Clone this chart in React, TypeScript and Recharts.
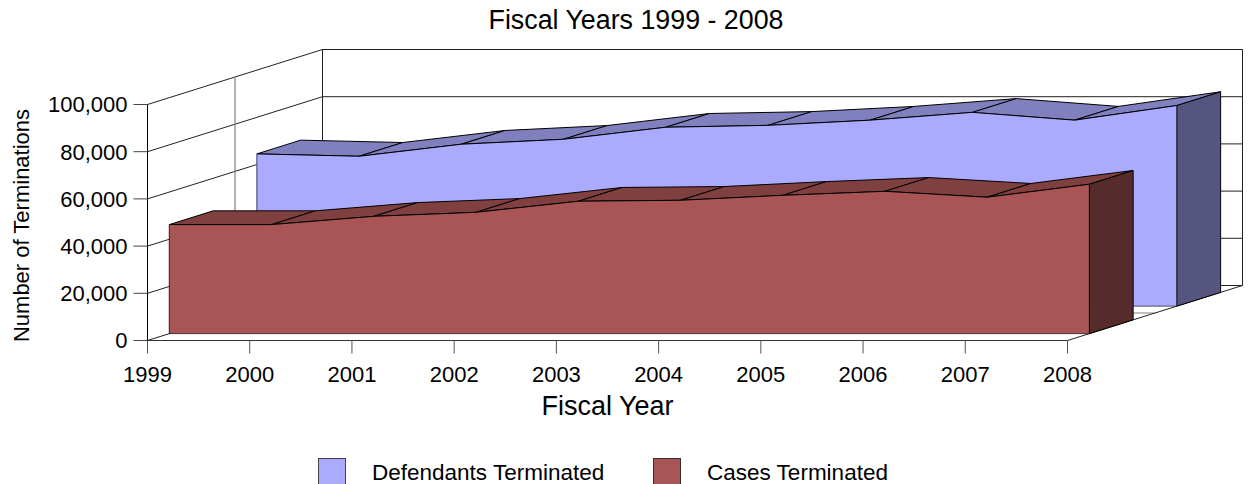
import React from 'react';
import { LineChart, Line, XAxis, YAxis } from 'recharts';

const years = ['1999', '2000', '2001', '2002', '2003', '2004', '2005', '2006', '2007', '2008'];
const defendants = [64500, 63500, 68600, 70700, 75800, 76600, 78800, 82100, 78800, 85000];
const cases = [46200, 46200, 49700, 51400, 56100, 56500, 58600, 60300, 57800, 63300];
const yTicks = [0, 20000, 40000, 60000, 80000, 100000];

const data = years.map((year, i) => ({ year, defendants: defendants[i], cases: cases[i] }));

const FONT = '"Liberation Sans", Arial, sans-serif';
const DEPTH_X = 175;
const DEPTH_Y = -55;
const LINE = '#000';

const BLUE = { front: '#AAAAFF', top: '#8080BF', side: '#555580', border: '#555580' };
const RED = { front: '#AA5555', top: '#804040', side: '#552B2B', border: '#552B2B' };

type Pt = { x: number; y: number };
const poly = (pts: number[][]) => pts.map((p) => p.join(',')).join(' ');

// pixel rate and position of value zero, read back from the library's own scale
function scaleOf(points: any[], dataKey: string) {
  const a = points[0];
  const hi = points.reduce((m, p) => (p.payload[dataKey] > m.payload[dataKey] ? p : m), a);
  const lo = points.reduce((m, p) => (p.payload[dataKey] < m.payload[dataKey] ? p : m), a);
  const k = (lo.y - hi.y) / (hi.payload[dataKey] - lo.payload[dataKey]);
  return (value: number) => lo.y + (lo.payload[dataKey] - value) * k;
}

function makeBlock(dataKey: string, startFrac: number, endFrac: number, c: typeof BLUE) {
  return (props: any) => {
    const { index, points } = props;
    if (index !== 0) return <g key={index} />;
    const ox = DEPTH_X * startFrac;
    const oy = DEPTH_Y * startFrac;
    const dx = DEPTH_X * (endFrac - startFrac);
    const dy = DEPTH_Y * (endFrac - startFrac);
    const y0 = scaleOf(points, dataKey)(0) + oy;
    const pts: number[][] = points.map((p: Pt) => [p.x + ox, p.y + oy]);
    const last = pts[pts.length - 1];
    const front = [[pts[0][0], y0], ...pts, [last[0], y0]];
    const side = [last, [last[0] + dx, last[1] + dy], [last[0] + dx, y0 + dy], [last[0], y0]];
    return (
      <g key={dataKey}>
        {pts.slice(0, -1).map((p, i) => {
          const n = pts[i + 1];
          return (
            <polygon
              key={i}
              points={poly([p, n, [n[0] + dx, n[1] + dy], [p[0] + dx, p[1] + dy]])}
              fill={c.top}
              stroke={LINE}
              strokeWidth={1}
              strokeLinejoin="round"
            />
          );
        })}
        <polygon points={poly(front)} fill={c.front} stroke="none" />
        <polyline points={poly(pts)} fill="none" stroke={LINE} strokeWidth={1} />
        <polyline points={poly([[pts[0][0], y0], pts[0]])} fill="none" stroke={c.border} strokeWidth={1.2} />
        <polyline points={poly([[pts[0][0], y0], [last[0], y0]])} fill="none" stroke={LINE} strokeOpacity={0.6} strokeWidth={1} />
        <polygon points={poly(side)} fill={c.side} stroke={LINE} strokeWidth={1} />
      </g>
    );
  };
}

function wallLine(tick: number) {
  return (props: any) => {
    const { index, points } = props;
    if (index !== 0) return <g key={index} />;
    const x0 = points[0].x;
    const x1 = points[points.length - 1].x;
    const y = points[0].y;
    return (
      <g key={tick} fill="none" stroke="#222" strokeWidth={1}>
        <line x1={x0} y1={y} x2={x0 + DEPTH_X} y2={y + DEPTH_Y} />
        <line x1={x0 + DEPTH_X} y1={y + DEPTH_Y} x2={x1 + DEPTH_X} y2={y + DEPTH_Y} />
      </g>
    );
  };
}

// verticals and floor edges of the walls, placed with the value scale
function wallFrame(props: any) {
  const { index, points } = props;
  if (index !== 0) return <g key={index} />;
  const x0 = points[0].x;
  const x1 = points[points.length - 1].x;
  const scale = scaleOf(points, 'defendants');
  const yTop = scale(yTicks[yTicks.length - 1]);
  const h = scale(yTicks[0]);
  return (
    <g key="frame" fill="none" stroke="#222" strokeWidth={1}>
      <line x1={x0 + DEPTH_X} y1={yTop + DEPTH_Y} x2={x0 + DEPTH_X} y2={h + DEPTH_Y} />
      <line x1={x1 + DEPTH_X} y1={yTop + DEPTH_Y} x2={x1 + DEPTH_X} y2={h + DEPTH_Y} />
      <line x1={x0 + DEPTH_X / 2} y1={yTop + DEPTH_Y / 2} x2={x0 + DEPTH_X / 2} y2={h + DEPTH_Y / 2} stroke="#808080" strokeWidth={1.2} />
      <line x1={x0 + DEPTH_X / 2} y1={h + DEPTH_Y / 2} x2={x1 + DEPTH_X / 2} y2={h + DEPTH_Y / 2} stroke="#808080" />
      <line x1={x1} y1={h} x2={x1 + DEPTH_X} y2={h + DEPTH_Y} />
    </g>
  );
}

const axisTick = { fontFamily: FONT, fontSize: 22, fill: '#000' };

function Legend() {
  const item = (label: string, color: string, border: string, left: number, textLeft: number) => (
    <React.Fragment key={label}>
      <div style={{ position: 'absolute', left, top: 458, width: 28, height: 40, boxSizing: 'border-box', background: color, border: `1px solid ${border}` }} />
      <div style={{ position: 'absolute', left: textLeft, top: 460, fontFamily: FONT, fontSize: 22.5, lineHeight: '25px', whiteSpace: 'nowrap', color: '#000' }}>{label}</div>
    </React.Fragment>
  );
  return (
    <>
      {item('Defendants Terminated', BLUE.front, '#444', 318, 372)}
      {item('Cases Terminated', RED.front, '#333', 653, 707)}
    </>
  );
}

export default function App() {
  return (
    <div style={{ position: 'absolute', left: 0, top: 0, width: 1248, height: 484, overflow: 'hidden', background: '#fff' }}>
      <div style={{ position: 'absolute', left: 0, width: 1272, textAlign: 'center', top: 5, fontFamily: FONT, fontSize: 26.8, lineHeight: '31px', color: '#000' }}>
        Fiscal Years 1999 - 2008
      </div>
      <LineChart
        width={1248}
        height={484}
        data={data}
        margin={{ top: 104.5, right: 180.5, bottom: 83.5, left: 0.5 }}
        style={{ position: 'absolute', left: 0, top: 0 }}
      >
        <XAxis
          dataKey="year"
          scale="point"
          padding={{ left: 0, right: 0 }}
          height={60}
          interval={0}
          tickSize={13}
          tickMargin={13}
          tick={axisTick}
          stroke="#333"
          tickLine={{ stroke: '#555' }}
          label={{ value: 'Fiscal Year', position: 'insideBottom', offset: -14, fontFamily: FONT, fontSize: 27, fill: '#000' }}
        />
        <YAxis
          width={147}
          domain={[0, 100000]}
          ticks={yTicks}
          interval={0}
          tickSize={14}
          tickMargin={6}
          tick={axisTick}
          stroke="#000"
          tickLine={{ stroke: '#444' }}
          tickFormatter={(v: number) => v.toLocaleString('en-US')}
          label={{ value: 'Number of Terminations', angle: -90, position: 'center', dx: -53, dy: 3, fontFamily: FONT, fontSize: 22, fill: '#000' }}
        />
        {yTicks.map((t) => (
          <Line key={t} dataKey={() => t} stroke="none" dot={wallLine(t)} activeDot={false} legendType="none" isAnimationActive={false} />
        ))}
        <Line dataKey="defendants" stroke="none" dot={wallFrame} activeDot={false} legendType="none" isAnimationActive={false} />
        <Line dataKey="defendants" name="Defendants Terminated" stroke="none" dot={makeBlock('defendants', 5 / 8, 7 / 8, BLUE)} activeDot={false} isAnimationActive={false} />
        <Line dataKey="cases" name="Cases Terminated" stroke="none" dot={makeBlock('cases', 1 / 8, 3 / 8, RED)} activeDot={false} isAnimationActive={false} />
      </LineChart>
      <Legend />
    </div>
  );
}
